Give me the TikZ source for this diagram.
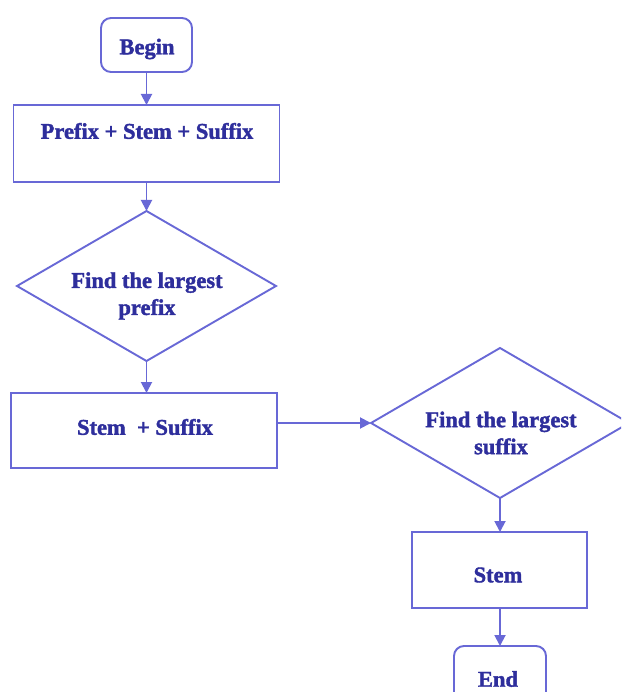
\documentclass[tikz,border=0pt]{standalone}
\usepackage{fontspec}
\setmainfont{Liberation Serif}[BoldFeatures={FakeBold=1.6}]
\usetikzlibrary{shapes.geometric,arrows.meta}
\definecolor{linec}{RGB}{104,104,214}
\definecolor{textc}{RGB}{46,46,156}
\tikzset{
  shapebox/.style={draw=linec,line width=1.9pt,fill=white,inner sep=0pt,outer sep=0pt},
  procbox/.style={shapebox,rectangle},
  termbox/.style={shapebox,rectangle,rounded corners=10pt},
  decbox/.style={shapebox,diamond},
  lbl/.style={font=\fontsize{22.5}{27}\selectfont\bfseries,text=textc,align=center,inner sep=0pt},
  conn/.style={draw=linec,line width=1.9pt,-{Triangle[length=11pt,width=11pt]}}
}
\begin{document}
\begin{tikzpicture}[x=1pt,y=-1pt]
\useasboundingbox (0,0) rectangle (621,692);
\clip (0,0) rectangle (621,692);
% shapes
\node[termbox,minimum width=91pt,minimum height=54pt] (begin) at (146.5,45) {};
\node[procbox,minimum width=266pt,minimum height=77pt] (pss) at (146.5,143.5) {};
\node[decbox,minimum width=259pt,minimum height=150pt] (d1) at (146.5,286) {};
\node[procbox,minimum width=266pt,minimum height=75pt] (ss) at (144,430.5) {};
\node[decbox,minimum width=258pt,minimum height=150pt] (d2) at (500,423) {};
\node[procbox,minimum width=175pt,minimum height=76pt] (stem) at (499.5,570) {};
\node[termbox,minimum width=92pt,minimum height=80pt] (end) at (500,686) {};
% labels
\node[lbl] (tbegin) at (147,49) {Begin};
\node[lbl] (tpss) at (147,131) {Prefix + Stem + Suffix};
\node[lbl] (td1) at (147,296) {Find the largest\\prefix};
\node[lbl] (tss) at (145,427) {Stem\ \ + Suffix};
\node[lbl] (td2) at (501,433) {Find the largest\\suffix};
\node[lbl] (tstem) at (498,575) {Stem};
\node[lbl] (tend) at (498,679) {End};
% connectors
\draw[conn] (begin.south) -- (pss.north);
\draw[conn] (pss.south) -- (d1.north);
\draw[conn] (d1.south) -- (d1.south |- ss.north);
\draw[conn] (ss.east |- d2.west) -- (d2.west);
\draw[conn] (d2.south) -- (stem.north -| d2.south);
\draw[conn] (stem.south -| end.north) -- (end.north);
\end{tikzpicture}
\end{document}
